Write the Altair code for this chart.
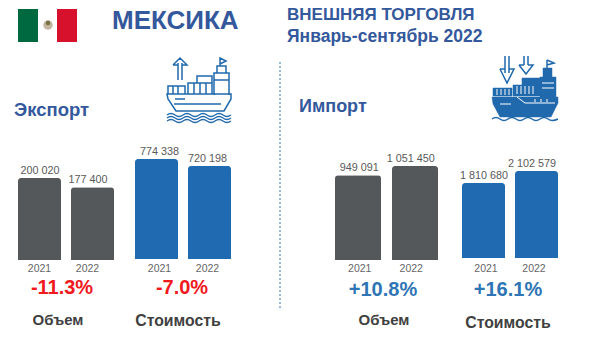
import altair as alt
import pandas as pd

YEARS = ["2021", "2022"]
EXPORT_VOLUME = [200020, 177400]
EXPORT_VALUE = [774338, 720198]
IMPORT_VOLUME = [949091, 1051450]
IMPORT_VALUE = [1810680, 2102579]
EXPORT_VOLUME_LABELS = ["200 020", "177 400"]
EXPORT_VALUE_LABELS = ["774 338", "720 198"]
IMPORT_VOLUME_LABELS = ["949 091", "1 051 450"]
IMPORT_VALUE_LABELS = ["1 810 680", "2 102 579"]

OFF = 8  # page margin
W, H = 584, 340
GRAY, BLUE = "#54585a", "#1f6ab0"
NAVY = "#34589c"
ICON = "#2169ad"

# (values, labels, colour, left, right, bar gap, baseline, tallest bar, value-label shift, year-label shift)
GROUPS = [
    (EXPORT_VOLUME, EXPORT_VOLUME_LABELS, GRAY, 18, 114, 10, 260, 82, -2, -2.5),
    (EXPORT_VALUE, EXPORT_VALUE_LABELS, BLUE, 135, 231, 10, 259, 100, 0.5, 0.5),
    (IMPORT_VOLUME, IMPORT_VOLUME_LABELS, GRAY, 335, 438, 11, 260, 94, -1.5, -1),
    (IMPORT_VALUE, IMPORT_VALUE_LABELS, BLUE, 462, 558, 10, 258, 87, -2, 0),
]

layers = []
for values, labels, color, left, right, gap, base, tall, dx_val, dx_year in GROUPS:
    df = pd.DataFrame({"year": YEARS, "value": values, "label": labels})
    bar_w = (right - left - gap) / 2
    x_scale = alt.Scale(domain=YEARS, range=[left - OFF, right - OFF],
                        paddingInner=gap / (bar_w + gap), paddingOuter=0)
    y_scale = alt.Scale(domain=[0, max(values)], range=[base - OFF, base - OFF - tall],
                        nice=False, zero=True)
    x = alt.X("year:N", scale=x_scale, axis=None, sort=YEARS)
    y = alt.Y("value:Q", scale=y_scale, axis=None)
    base_chart = alt.Chart(df)
    layers.append(base_chart.mark_bar(color=color, cornerRadiusTopLeft=3, cornerRadiusTopRight=3)
                  .encode(x=x, y=y))
    layers.append(base_chart.mark_text(font="Liberation Sans", fontSize=10.8, color="#595959",
                                       baseline="middle", dy=-7, dx=dx_val)
                  .encode(x=x, y=y, text="label:N"))
    layers.append(base_chart.mark_text(font="Liberation Sans", fontSize=10.5, color="#666666",
                                       baseline="middle", dx=dx_year)
                  .encode(x=x, y=alt.value(268.5 - OFF), text="year:N"))

one = alt.Chart(pd.DataFrame({"a": [0]}))


def txt(s, x, y, size, color, bold=True, align="center"):
    return one.mark_text(text=s, font="Liberation Sans", fontSize=size, color=color,
                         fontWeight="bold" if bold else "normal", align=align, baseline="middle"
                         ).encode(x=alt.value(x - OFF), y=alt.value(y - OFF))


def box(x1, x2, y1, y2, color):
    return one.mark_rect(color=color).encode(
        x=alt.value(x1 - OFF), x2=alt.value(x2 - OFF), y=alt.value(y1 - OFF), y2=alt.value(y2 - OFF))


def icon(path, cx, cy, filled=False, sw=1.4, color=ICON):
    mark = dict(shape=path, size=4, strokeWidth=sw, stroke=color, opacity=1,
                fill=color if filled else "transparent", filled=filled)
    return one.mark_point(**mark).encode(x=alt.value(cx - OFF), y=alt.value(cy - OFF))


# flag
layers += [
    box(18, 38, 9, 42, "#00693f"),
    box(38, 57, 9, 42, "#ffffff"),
    box(57, 77, 9, 42, "#d7102c"),
    one.mark_point(shape="circle", size=90, filled=True, color="#b3a488", opacity=0.8)
    .encode(x=alt.value(48 - OFF), y=alt.value(25 - OFF)),
    one.mark_point(shape="circle", size=20, filled=True, color="#6f6a3a", opacity=0.9)
    .encode(x=alt.value(48 - OFF), y=alt.value(23 - OFF)),
]

# divider
layers.append(one.mark_rule(color="#2e75b6", strokeWidth=1, strokeDash=[2, 2]).encode(
    x=alt.value(280 - OFF), y=alt.value(62 - OFF), y2=alt.value(308 - OFF)))

# export ship (outline), path units are pixels around the centre
EXPORT_SHIP = ("M-32 4L32 4L32 9L25 21L-23 21L-31 9Z M-25 14L22 14 M-24 9L-14 9 "
               "M-31 4L-31 -4L-14 -4L-14 4 M-26 -4L-26 4 M-21 -4L-21 4 "
               "M-11 4L-11 -7L13 -7L13 4 M-5 -7L-5 4 M1 -7L1 4 M7 -7L7 4 "
               "M-2 -7L-2 -14L13 -14L13 -7 "
               "M15 5L15 -17L30 -17L30 5 M15 -10L30 -10 "
               "M18 -17L18 -24L27 -24L27 -17 M21 -24L21 -32L27 -29L21 -26 "
               "M-21 -10L-21 -27 M-17 -10L-17 -27 M-26 -25L-19 -32L-12 -25L-17 -25 M-26 -25L-21 -25")
WAVES_A = ("M-32 25Q-28 22 -24 25T-16 25T-8 25T0 25T8 25T16 25T24 25T32 25 "
           "M-32 28Q-28 25 -24 28T-16 28T-8 28T0 28T8 28T16 28T24 28T32 28 "
           "M-32 31Q-28 28 -24 31T-16 31T-8 31T0 31T8 31T16 31T24 31T32 31")
layers.append(icon(EXPORT_SHIP, 199, 90, sw=1.5))
layers.append(icon(WAVES_A, 199, 90, sw=1.3))

# import ship (solid)
IMPORT_SOLID = ("M-33 7L33 7L33 13L26 27L-25 27L-32 14Z "
                "M-32 -2L-13 -2L-13 6L-32 6Z M-12 -5L15 -5L15 6L-12 6Z "
                "M-3 -12L15 -12L15 -5L-3 -5Z M15 -13L31 -13L31 7L15 7Z M18 -22L27 -22L27 -13L18 -13Z")
IMPORT_WHITE = ("M-28 -1L-28 5 M-24 -1L-24 5 M-20 -1L-20 5 M-16 -1L-16 5 "
                "M-8 -4L-8 4 M-4 -4L-4 4 M0 -4L0 4 M4 -4L4 4 M8 -4L8 4 "
                "M17 -7L29 -7 M17 -2L29 -2 M-25 14L-14 14 "
                "M-8 7L0 13L30 13 M10 9L10 12 M16 9L16 12 M22 9L22 12")
IMPORT_LINES = ("M22 -22L22 -30 M22 -30L29 -27L22 -25 "
                "M-20 -34L-20 -17 M-16 -34L-16 -17 M-25 -21L-18 -7L-11 -21L-16 -21 M-25 -21L-20 -21 "
                "M-1 -34L-1 -25 M3 -34L3 -25 M-6 -25L1 -16L8 -25L3 -25 M-6 -25L-1 -25 "
                "M-33 29Q-29 26 -25 29T-17 29T-9 29T-1 29T7 29T15 29T23 29T33 29")
layers.append(icon(IMPORT_SOLID, 525, 90, filled=True, sw=0.5))
layers.append(icon(IMPORT_WHITE, 525, 90, sw=1, color="#ffffff"))
layers.append(icon(IMPORT_LINES, 525, 90, sw=1.5))

# texts
layers += [
    txt("МЕКСИКА", 112, 21, 26, NAVY, align="left"),
    txt("ВНЕШНЯЯ ТОРГОВЛЯ", 287, 15, 17, NAVY, align="left"),
    txt("Январь-сентябрь 2022", 287, 37, 17.5, NAVY, align="left"),
    txt("Экспорт", 14, 110, 18.5, NAVY, align="left"),
    txt("Импорт", 299, 107, 18, NAVY, align="left"),
    txt("-11.3%", 62, 288, 20, "#f01a1e"),
    txt("-7.0%", 182, 288, 20, "#f01a1e"),
    txt("+10.8%", 383, 290, 20, "#2e75b6"),
    txt("+16.1%", 508, 290, 20, "#2e75b6"),
    txt("Объем", 58, 320, 15, "#404040"),
    txt("Стоимость", 178, 321, 15.8, "#404040"),
    txt("Объем", 384, 320, 15, "#404040"),
    txt("Стоимость", 508, 323, 15.8, "#404040"),
]

chart = (
    alt.layer(*layers)
    .resolve_scale(x="independent", y="independent")
    .properties(width=W, height=H, padding=0, background="white",
                autosize=alt.AutoSizeParams(type="none"))
    .configure_view(stroke=None)
)

chart.save("out.html", embed_options={"renderer": "svg", "actions": False})
